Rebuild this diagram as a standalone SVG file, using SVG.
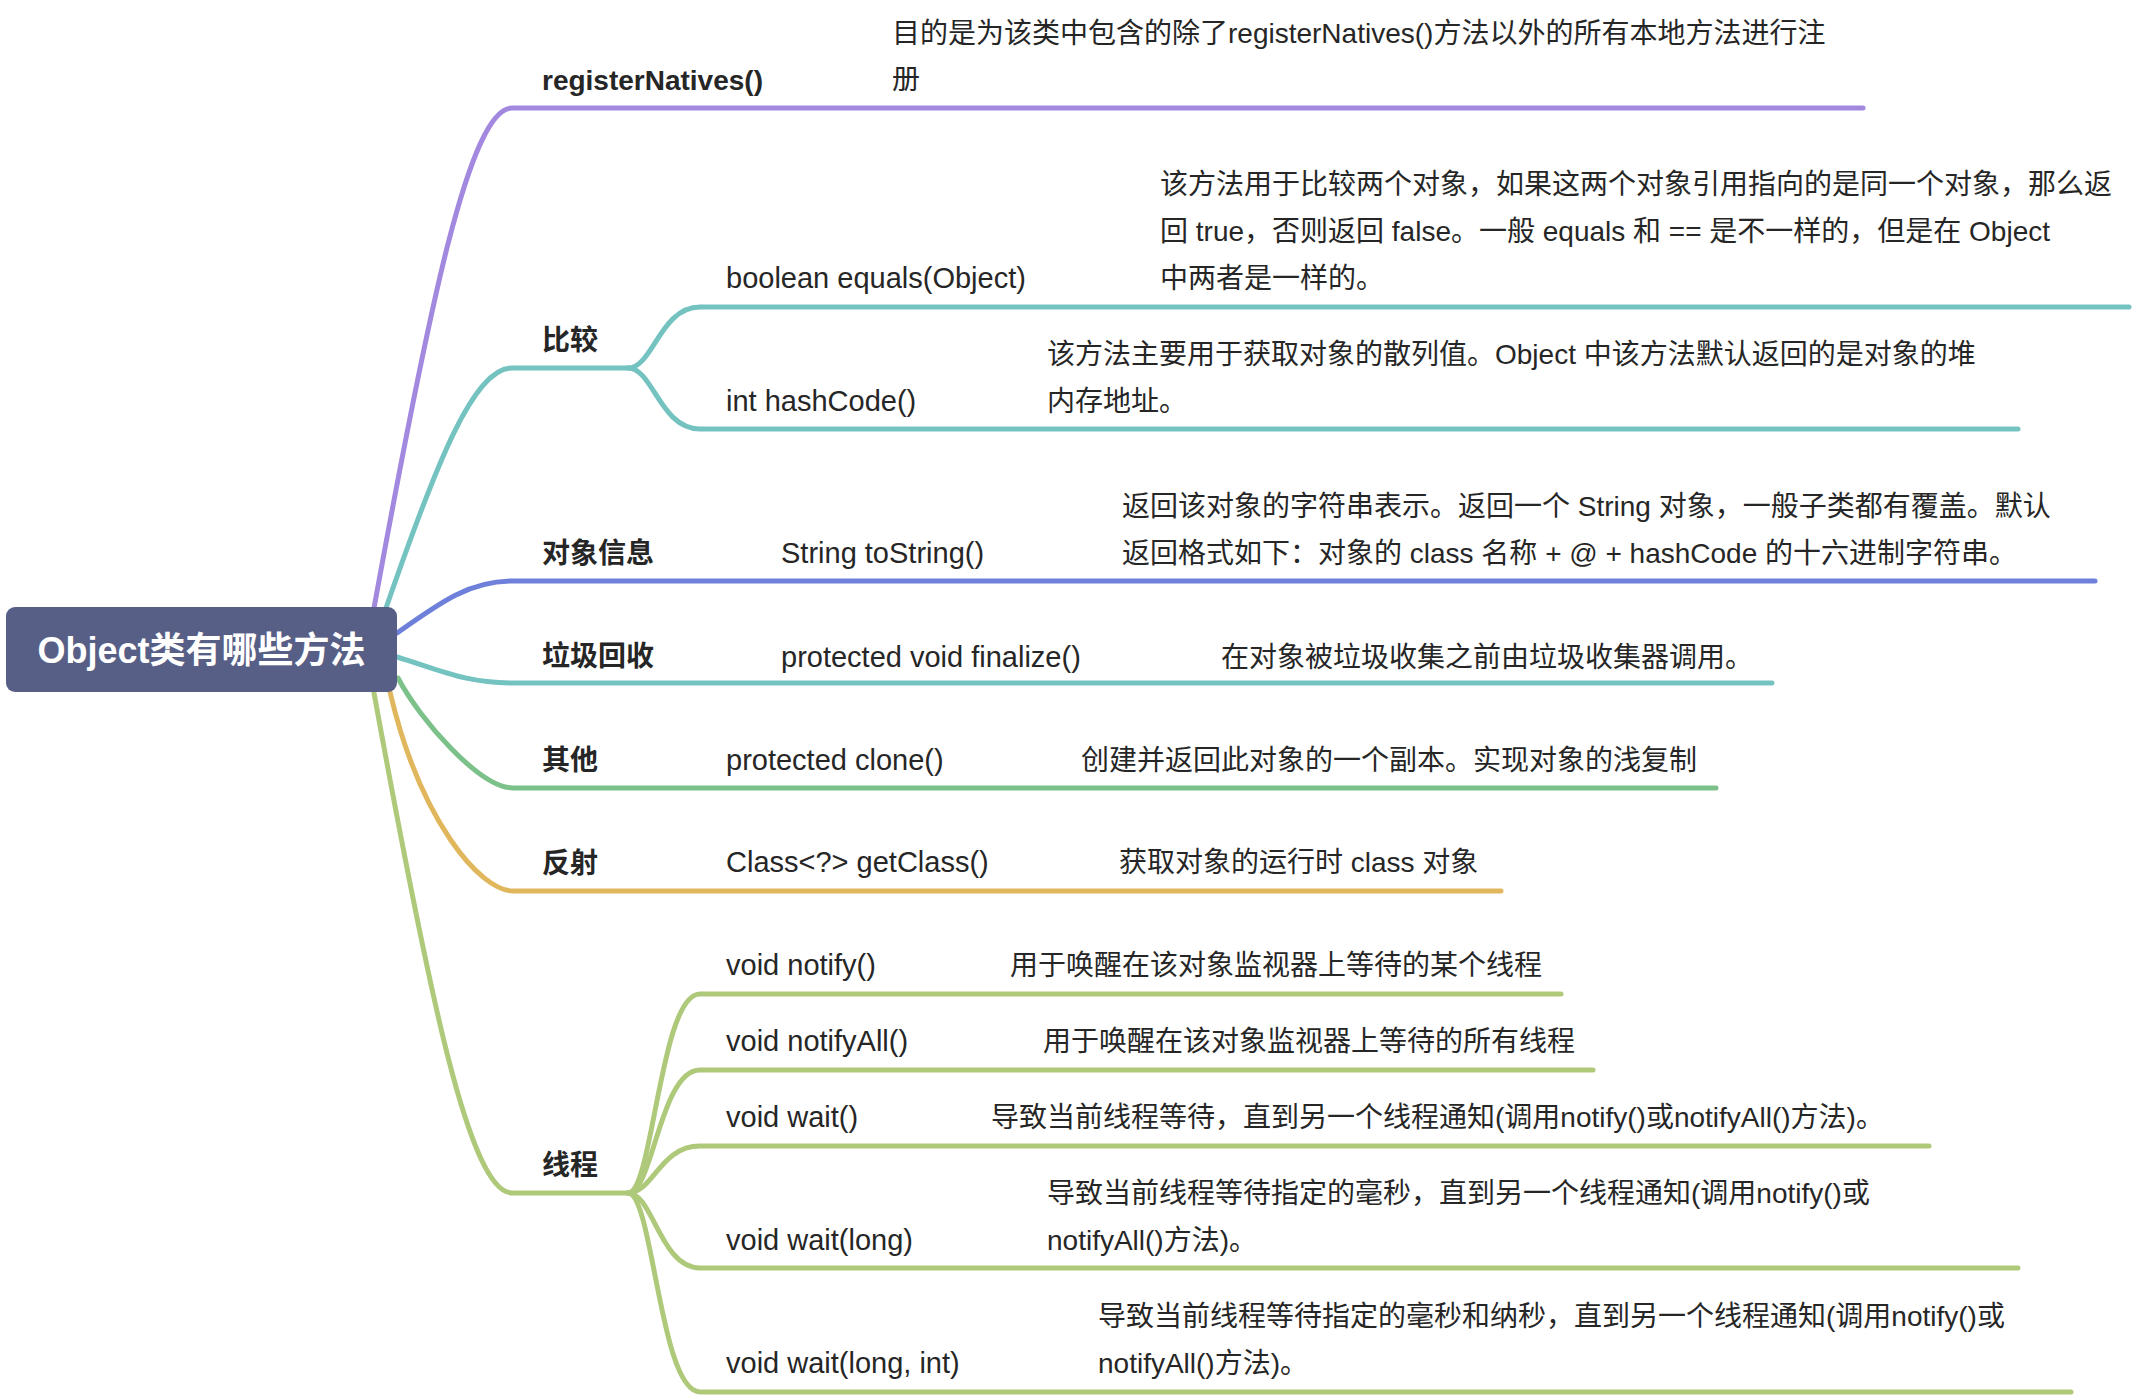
<svg xmlns="http://www.w3.org/2000/svg" width="2134" height="1396" viewBox="0 0 2134 1396">
<style>
  .c { fill: none; stroke-width: 5; stroke-linecap: round; stroke-linejoin: round; }
  .purple { stroke: #A288DE; }
  .teal { stroke: #74C3C1; }
  .blue { stroke: #6E80DA; }
  .green { stroke: #7CC18A; }
  .orange { stroke: #E1B75D; }
  .lime { stroke: #AFC97B; }
  text { font-family: "Liberation Sans", "Noto Sans CJK SC", sans-serif; fill: #262626; }
  .root { font-size: 36px; font-weight: bold; fill: #FFFFFF; }
  .l1 { font-size: 28px; font-weight: bold; }
  .l2 { font-size: 29px; }
  .d { font-size: 28px; }
</style>
<rect width="2134" height="1396" fill="#FFFFFF"/>
<g id="connectors">
  <path class="c purple" d="M374,608 C430,301 470,108 512,108 L1863,108"/>
  <path class="c teal" d="M386,608 C437,461 474,368 512,368 L628,368"/>
  <path class="c teal" d="M628,368 C653,368 660,307 700,307 L2129,307"/>
  <path class="c teal" d="M628,368 C653,368 660,429 700,429 L2018,429"/>
  <path class="c blue" d="M397,633 C442,601 470,581 513,581 L2095,581"/>
  <path class="c teal" d="M397,657 C440,670 465,683 513,683 L1772,683"/>
  <path class="c green" d="M398,678 C420,720 480,788 513,788 L1716,788"/>
  <path class="c orange" d="M390,692 C420,820 480,891 513,891 L1501,891"/>
  <path class="c lime" d="M374,693 C430,1000 470,1193 512,1193 L628,1193"/>
  <path class="c lime" d="M628,1193 C653,1193 660,994 700,994 L1561,994"/>
  <path class="c lime" d="M628,1193 C653,1193 660,1070 700,1070 L1593,1070"/>
  <path class="c lime" d="M628,1193 C653,1193 660,1146 700,1146 L1929,1146"/>
  <path class="c lime" d="M628,1193 C653,1193 660,1268 700,1268 L2018,1268"/>
  <path class="c lime" d="M628,1193 C653,1193 660,1392 700,1392 L2071,1392"/>
</g>
<g id="root">
  <rect x="6" y="607" width="391" height="85" rx="9" fill="#585F86"/>
  <text class="root" x="201.5" y="663" text-anchor="middle">Object类有哪些方法</text>
</g>
<g id="registerNatives">
  <text class="l1" x="542" y="90">registerNatives()</text>
  <text class="d" x="892" y="43">目的是为该类中包含的除了registerNatives()方法以外的所有本地方法进行注</text>
  <text class="d" x="892" y="89">册</text>
</g>
<g id="compare">
  <text class="l1" x="542" y="350">比较</text>
</g>
<g id="equals">
  <text class="l2" x="726" y="288">boolean equals(Object)</text>
  <text class="d" x="1160" y="194">该方法用于比较两个对象，如果这两个对象引用指向的是同一个对象，那么返</text>
  <text class="d" x="1160" y="241">回 true，否则返回 false。一般 equals 和 == 是不一样的，但是在 Object</text>
  <text class="d" x="1160" y="288">中两者是一样的。</text>
</g>
<g id="hashCode">
  <text class="l2" x="726" y="411">int hashCode()</text>
  <text class="d" x="1047" y="364">该方法主要用于获取对象的散列值。Object 中该方法默认返回的是对象的堆</text>
  <text class="d" x="1047" y="411">内存地址。</text>
</g>
<g id="objectInfo">
  <text class="l1" x="542" y="563">对象信息</text>
  <text class="l2" x="781" y="563">String toString()</text>
  <text class="d" x="1122" y="516">返回该对象的字符串表示。返回一个 String 对象，一般子类都有覆盖。默认</text>
  <text class="d" x="1122" y="563">返回格式如下：对象的 class 名称 + @ + hashCode 的十六进制字符串。</text>
</g>
<g id="gc">
  <text class="l1" x="542" y="666">垃圾回收</text>
  <text class="l2" x="781" y="667">protected void finalize()</text>
  <text class="d" x="1221" y="667">在对象被垃圾收集之前由垃圾收集器调用。</text>
</g>
<g id="other">
  <text class="l1" x="542" y="770">其他</text>
  <text class="l2" x="726" y="770">protected clone()</text>
  <text class="d" x="1081" y="770">创建并返回此对象的一个副本。实现对象的浅复制</text>
</g>
<g id="reflect">
  <text class="l1" x="542" y="873">反射</text>
  <text class="l2" x="726" y="872">Class&lt;?&gt; getClass()</text>
  <text class="d" x="1119" y="872">获取对象的运行时 class 对象</text>
</g>
<g id="thread">
  <text class="l1" x="542" y="1175">线程</text>
</g>
<g id="notify">
  <text class="l2" x="726" y="975">void notify()</text>
  <text class="d" x="1010" y="975">用于唤醒在该对象监视器上等待的某个线程</text>
</g>
<g id="notifyAll">
  <text class="l2" x="726" y="1051">void notifyAll()</text>
  <text class="d" x="1043" y="1051">用于唤醒在该对象监视器上等待的所有线程</text>
</g>
<g id="wait">
  <text class="l2" x="726" y="1127">void wait()</text>
  <text class="d" x="991" y="1127">导致当前线程等待，直到另一个线程通知(调用notify()或notifyAll()方法)。</text>
</g>
<g id="waitLong">
  <text class="l2" x="726" y="1250">void wait(long)</text>
  <text class="d" x="1047" y="1203">导致当前线程等待指定的毫秒，直到另一个线程通知(调用notify()或</text>
  <text class="d" x="1047" y="1250">notifyAll()方法)。</text>
</g>
<g id="waitLongInt">
  <text class="l2" x="726" y="1373">void wait(long, int)</text>
  <text class="d" x="1098" y="1326">导致当前线程等待指定的毫秒和纳秒，直到另一个线程通知(调用notify()或</text>
  <text class="d" x="1098" y="1373">notifyAll()方法)。</text>
</g>
</svg>
